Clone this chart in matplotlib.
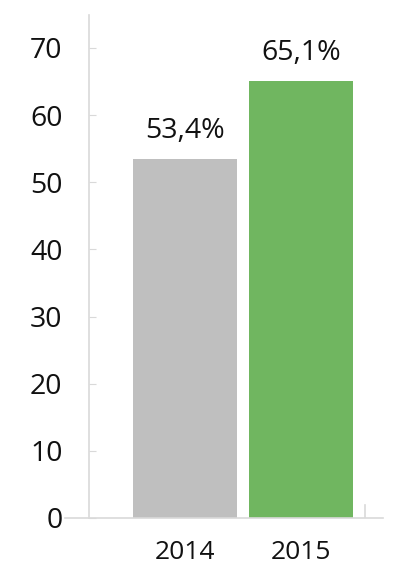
import matplotlib
matplotlib.use("Agg")
import matplotlib.pyplot as plt

categories = ["2014", "2015"]
values = [53.4, 65.1]
labels = ["53,4%", "65,1%"]
colors = ["#BFBFBF", "#70B660"]
yticks = [0, 10, 20, 30, 40, 50, 60, 70]

plt.rcParams['font.family'] = ['Open Sans', 'DejaVu Sans']

fig = plt.figure(figsize=(4.0, 5.86), dpi=100)
ax = fig.add_axes([65/400, 1-518/586, (383-65)/400, (518-15)/586])

x = list(range(len(categories)))
ax.bar(x, values, width=0.9, color=colors, zorder=2)
for xi, v, lab in zip(x, values, labels):
    ax.annotate(lab, (xi, v), xytext=(0, 10), textcoords='offset points',
                ha='center', va='bottom', fontsize=20.5, color='#111111')

ax.set_xlim(-1.034, 1.707)
ax.set_ylim(0, 74.9)
ax.set_yticks(yticks)
ax.set_xticks(x)
ax.set_xticklabels(categories)

spine_col = '#D9D9D9'
for s in ['top', 'right']:
    ax.spines[s].set_visible(False)
ax.spines['left'].set_position(('axes', (89-65)/318))
ax.spines['left'].set_color(spine_col)
ax.spines['bottom'].set_color(spine_col)
ax.spines['left'].set_linewidth(1.2)
ax.spines['bottom'].set_linewidth(1.2)

ax.tick_params(axis='y', direction='in', length=5, color=spine_col, pad=19,
               labelsize=20.5, labelcolor='#111111')
ax.tick_params(axis='x', length=0, pad=16, labelsize=19, labelcolor='#111111')
ax.axvline(1.55, ymin=0, ymax=13/503, color=spine_col, lw=1.2)

fig.savefig("out.png", dpi=100, facecolor='white')
